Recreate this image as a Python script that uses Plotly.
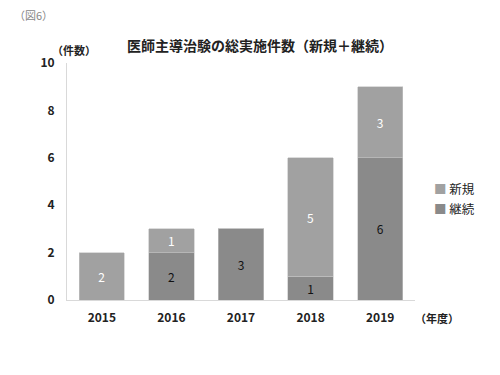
import plotly.graph_objects as go

years = ["2015", "2016", "2017", "2018", "2019"]
keizoku = [0, 2, 3, 1, 6]   # 継続
shinki = [2, 1, 0, 5, 3]    # 新規
series_names = ["新規", "継続"]

def labels(vals):
    return [str(v) if v else "" for v in vals]

font_family = "Noto Sans CJK JP"
c_keizoku = "#8a8a8a"
c_shinki = "#a1a1a1"

fig = go.Figure()
fig.add_trace(go.Bar(
    x=years, y=keizoku, name=series_names[1],
    marker=dict(color=c_keizoku, line=dict(color="#c4c4c4", width=0.6)),
    text=labels(keizoku), textposition="inside", insidetextanchor="middle",
    textfont=dict(color="#111111", size=12, family=font_family),
    width=0.65, showlegend=False,
))
fig.add_trace(go.Bar(
    x=years, y=shinki, name=series_names[0],
    marker=dict(color=c_shinki, line=dict(color="#c4c4c4", width=0.6)),
    text=labels(shinki), textposition="inside", insidetextanchor="middle",
    textfont=dict(color="#ffffff", size=12, family=font_family),
    width=0.65, showlegend=False,
))

H = 375 - 63 - 75  # plot height in px
W = 500 - 67 - 85  # plot width in px

def px_x(x):
    return (x - 67) / W

def px_y(y):
    return (300 - y) / H

fig.update_layout(
    barmode="stack",
    width=500, height=375,
    margin=dict(l=67, r=85, t=63, b=75),
    paper_bgcolor="white", plot_bgcolor="white",
    font=dict(family=font_family, color="#222222"),
    uniformtext=dict(mode="show", minsize=10),
    title=dict(text="<b>医師主導治験の総実施件数（新規＋継続）</b>", x=0.52, xanchor="center",
               y=1 - 46 / 375, yanchor="middle", font=dict(size=14, color="#222222")),
    annotations=[
        dict(text="（図6）", x=px_x(12), y=px_y(15), xref="paper", yref="paper", showarrow=False,
             xanchor="left", yanchor="middle", font=dict(size=11, color="#888888")),
        dict(text="<b>（件数）</b>", x=px_x(74), y=px_y(50), xref="paper", yref="paper", showarrow=False,
             xanchor="center", yanchor="middle", font=dict(size=11, color="#222222")),
        dict(text="<b>（年度）</b>", x=px_x(437), y=px_y(318), xref="paper", yref="paper", showarrow=False,
             xanchor="center", yanchor="middle", font=dict(size=11, color="#222222")),
        dict(text=f"<span style='color:{c_shinki}'>■</span> {series_names[0]}", x=px_x(432), y=px_y(188),
             xref="paper", yref="paper", showarrow=False, xanchor="left", yanchor="middle",
             font=dict(size=12.5, color="#222222")),
        dict(text=f"<span style='color:{c_keizoku}'>■</span> {series_names[1]}", x=px_x(432), y=px_y(208),
             xref="paper", yref="paper", showarrow=False, xanchor="left", yanchor="middle",
             font=dict(size=12.5, color="#222222")),
    ],
)

fig.update_xaxes(range=[-0.5, 4.5], showline=True, linecolor="#d9d9d9", linewidth=1,
                 showgrid=False, ticks="", tickfont=dict(size=12, color="#222222"),
                 ticklabelstandoff=7, tickprefix="<b>", ticksuffix="</b>")
fig.update_yaxes(range=[0, 10], dtick=2, showline=True, linecolor="#d9d9d9", linewidth=1,
                 showgrid=False, zeroline=False, ticks="", tickfont=dict(size=12, color="#222222"),
                 ticklabelstandoff=9, tickprefix="<b>", ticksuffix="</b>")

fig.write_html("out.html", config={"displayModeBar": False},
               post_script="document.body.style.margin='0';")
